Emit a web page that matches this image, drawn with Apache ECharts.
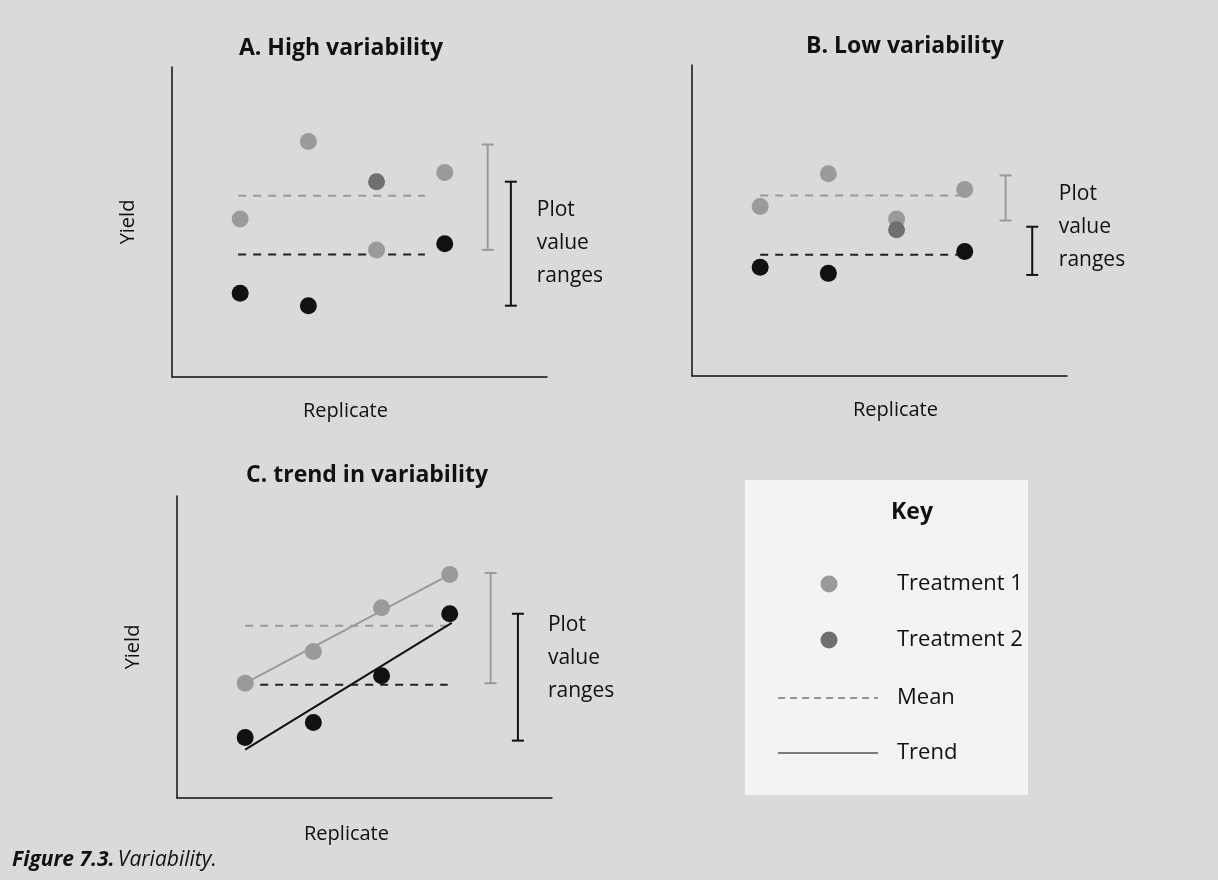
<!DOCTYPE html>
<html><head><meta charset="utf-8">
<script src="https://cdn.jsdelivr.net/npm/echarts@6/dist/echarts.min.js"></script>
<style>html,body{margin:0;padding:0;background:#dadada}#c{width:1218px;height:880px}</style>
</head><body><div id="c"></div>
<script>
// ---- data ----
const replicates = [1, 2, 3, 4];
const aT1 = [5.1, 7.6, 4.1, 6.6];
const aT2 = [2.7, 2.3, 6.3, 4.3];
const bT1 = [5.45, 6.5, 5.05, 6.0];
const bT2 = [3.5, 3.3, 4.7, 4.0];
const cT1 = [3.8, 4.85, 6.3, 7.4];
const cT2 = [2.0, 2.5, 4.05, 6.1];
const aMeans = [5.85, 3.95];
const bMeans = [5.8, 3.9];
const cMeans = [5.7, 3.75];
const aMeanX = [0.97, 3.71];
const bMeanX = [1.0, 3.92];
const cMeanX = [1.0, 3.97];
// [x, low, high] : treatment 1 range, treatment 2 range
const aRanges = [[4.63, 4.1, 7.5], [4.97, 2.3, 6.3]];
const bRanges = [[4.6, 5.0, 6.45], [4.99, 3.25, 4.8]];
const cRanges = [[4.6, 3.8, 7.45], [5.0, 1.9, 6.1]];
const cTrend1 = [[1, 3.8], [4, 7.4]];
const cTrend2 = [[1, 1.6], [4.03, 5.8]];
const labelPos = [[5.35, 4.32], [5.38, 4.79], [5.44, 4.64]];
const titles = ['A. High variability', 'B. Low variability', 'C. trend in variability'];
const keyItems = ['Treatment 1', 'Treatment 2', 'Mean', 'Trend'];
const rangeText = 'Plot\nvalue\nranges';

const C1 = '#9a9a9a', C2mid = '#6f6f6f', CBLK = '#111111';
const FONT = '"Open Sans", Lato, sans-serif';

const chart = echarts.init(document.getElementById('c'), null, {renderer: 'canvas'});

const grids = [
  {left: 172, top: 67, width: 375, height: 310},
  {left: 692, top: 65, width: 375, height: 311},
  {left: 177, top: 496, width: 375, height: 302}
];
const namePads = [[0, 28, 0, 0], [0, 0, 0, 32], [0, 36, 0, 0]];

function xAx(i, name) {
  return {gridIndex: i, type: 'value', min: 0, max: 5.5,
    axisLine: {show: true, lineStyle: {color: '#111', width: 1.5}},
    axisTick: {show: false}, axisLabel: {show: false}, splitLine: {show: false},
    name: name, nameLocation: 'middle', nameGap: i === 2 ? 26 : 24,
    nameTextStyle: {fontFamily: FONT, fontSize: 20, color: '#111', padding: namePads[i]}};
}
function yAx(i, name) {
  return {gridIndex: i, type: 'value', min: 0, max: 10,
    axisLine: {show: true, lineStyle: {color: '#111', width: 1.5}},
    axisTick: {show: false}, axisLabel: {show: false}, splitLine: {show: false},
    name: name, nameLocation: 'middle', nameGap: 34, nameRotate: 90,
    nameTextStyle: {fontFamily: FONT, fontSize: 20, color: '#111'}};
}

function pts(vals, midIdx) {
  return vals.map((v, k) => {
    const d = {value: [replicates[k], v]};
    if (k === midIdx) d.itemStyle = {color: C2mid};
    return d;
  });
}

function rangeSeries(i, r, color) {
  return {type: 'custom', xAxisIndex: i, yAxisIndex: i, z: 3,
    data: [r], silent: true,
    renderItem: function (params, api) {
      const x = api.value(0), lo = api.value(1), hi = api.value(2);
      const p1 = api.coord([x, lo]), p2 = api.coord([x, hi]);
      const w = 6;
      const st = {stroke: color, lineWidth: 2};
      return {type: 'group', children: [
        {type: 'line', shape: {x1: p1[0], y1: p1[1], x2: p2[0], y2: p2[1]}, style: st},
        {type: 'line', shape: {x1: p1[0] - w, y1: p1[1], x2: p1[0] + w, y2: p1[1]}, style: st},
        {type: 'line', shape: {x1: p2[0] - w, y1: p2[1], x2: p2[0] + w, y2: p2[1]}, style: st}
      ]};
    }};
}

function meanSeries(i, xs, y, color) {
  return {type: 'line', xAxisIndex: i, yAxisIndex: i, symbol: 'none', z: 2,
    data: [[xs[0], y], [xs[1], y]],
    lineStyle: {color: color, width: 2, type: [8, 7]}, silent: true};
}

function labelSeries(i, p) {
  return {type: 'custom', xAxisIndex: i, yAxisIndex: i, data: [p], silent: true, z: 6,
    renderItem: function (params, api) {
      const c = api.coord([api.value(0), api.value(1)]);
      return {type: 'text', x: c[0], y: c[1], style: {
        text: rangeText, fontFamily: FONT, fontSize: 21, lineHeight: 33,
        fill: '#111', align: 'left', verticalAlign: 'middle'}};
    }};
}

function scatter(i, data, color) {
  return {type: 'scatter', xAxisIndex: i, yAxisIndex: i, symbolSize: 17, z: 5,
    itemStyle: {color: color, opacity: 1}, data: data};
}

const series = [];
const panels = [
  {t1: aT1, t2: aT2, means: aMeans, mx: aMeanX, ranges: aRanges},
  {t1: bT1, t2: bT2, means: bMeans, mx: bMeanX, ranges: bRanges},
  {t1: cT1, t2: cT2, means: cMeans, mx: cMeanX, ranges: cRanges}
];
panels.forEach((p, i) => {
  series.push(meanSeries(i, p.mx, p.means[0], C1));
  series.push(meanSeries(i, p.mx, p.means[1], '#222'));
  series.push(rangeSeries(i, p.ranges[0], C1));
  series.push(rangeSeries(i, p.ranges[1], '#111'));
  series.push(scatter(i, pts(p.t1, -1), C1));
  series.push(scatter(i, pts(p.t2, i < 2 ? 2 : -1), CBLK));
  series.push(labelSeries(i, labelPos[i]));
});
series.push({type: 'line', xAxisIndex: 2, yAxisIndex: 2, symbol: 'none', data: cTrend1, z: 4,
  lineStyle: {color: C1, width: 2}});
series.push({type: 'line', xAxisIndex: 2, yAxisIndex: 2, symbol: 'none', data: cTrend2, z: 4,
  lineStyle: {color: '#111', width: 2}});

const titleStyle = {fontFamily: FONT, fontSize: 23, fontWeight: 'bold', color: '#111'};
const keyTextStyle = {fontFamily: FONT, fontSize: 22, fill: '#111'};

const option = {
  backgroundColor: '#dadada',
  animation: false,
  title: [
    {text: titles[0], left: 336, top: 32, textAlign: 'center', textStyle: titleStyle},
    {text: titles[1], left: 900, top: 30, textAlign: 'center', textStyle: titleStyle},
    {text: titles[2], left: 362, top: 459, textAlign: 'center', textStyle: titleStyle}
  ],
  grid: grids,
  xAxis: [xAx(0, 'Replicate'), xAx(1, 'Replicate'), xAx(2, 'Replicate')],
  yAxis: [yAx(0, 'Yield'), yAx(1, ''), yAx(2, 'Yield')],
  series: series,
  graphic: [
    {type: 'rect', left: 745, top: 480, shape: {width: 283, height: 315}, style: {fill: '#f3f3f3'}, z: 0},
    {type: 'text', x: 912, y: 512, style: {text: 'Key', fontFamily: FONT, fontSize: 23, fontWeight: 'bold', fill: '#111', align: 'center', verticalAlign: 'middle'}},
    {type: 'circle', shape: {cx: 829, cy: 584, r: 8.5}, style: {fill: C1}},
    {type: 'text', x: 897, y: 584, style: Object.assign({text: keyItems[0], verticalAlign: 'middle'}, keyTextStyle)},
    {type: 'circle', shape: {cx: 829, cy: 640, r: 8.5}, style: {fill: C2mid}},
    {type: 'text', x: 897, y: 640, style: Object.assign({text: keyItems[1], verticalAlign: 'middle'}, keyTextStyle)},
    {type: 'line', shape: {x1: 778, y1: 698, x2: 878, y2: 698}, style: {stroke: '#777', lineWidth: 1.5, lineDash: [7, 5]}},
    {type: 'text', x: 897, y: 698, style: Object.assign({text: keyItems[2], verticalAlign: 'middle'}, keyTextStyle)},
    {type: 'line', shape: {x1: 778, y1: 753, x2: 878, y2: 753}, style: {stroke: '#555', lineWidth: 1.5}},
    {type: 'text', x: 897, y: 753, style: Object.assign({text: keyItems[3], verticalAlign: 'middle'}, keyTextStyle)},
    {type: 'text', x: 12, y: 860, style: {
      text: '{b|Figure 7.3.} {i|Variability.}', verticalAlign: 'middle',
      rich: {
        b: {fontFamily: FONT, fontSize: 21, fontWeight: 'bold', fontStyle: 'italic', fill: '#111'},
        i: {fontFamily: FONT, fontSize: 21, fontStyle: 'italic', fill: '#111'}
      }}}
  ]
};
chart.setOption(option);
</script>
</body></html>
